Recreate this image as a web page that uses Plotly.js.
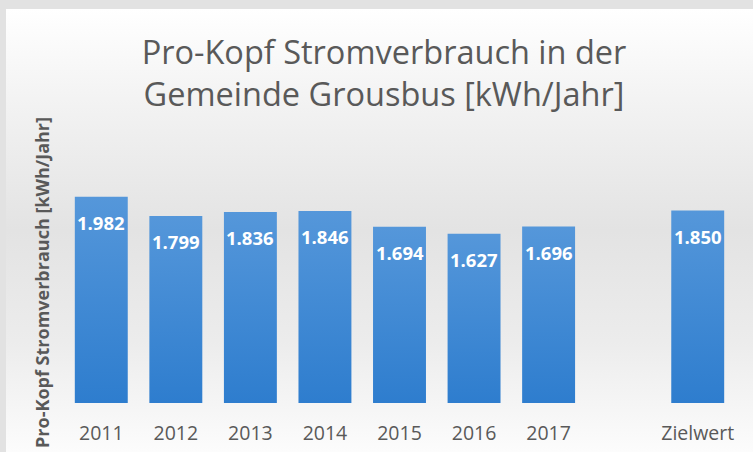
<!DOCTYPE html>
<html>
<head>
<meta charset="utf-8">
<script src="https://cdn.plot.ly/plotly-3.0.1.min.js"></script>
<style>
  html, body { margin:0; padding:0; width:753px; height:452px; overflow:hidden; background:#e2e2e2; }
  #bg { position:absolute; left:6px; top:9px; width:747px; height:443px;
        background: linear-gradient(to bottom, #ffffff 0%, #f2f2f2 22%, #e3e3e3 50%, #ececec 75%, #fcfcfc 100%); }
  #chart { position:absolute; left:0; top:0; width:753px; height:452px; }
</style>
</head>
<body>
<div id="bg"></div>
<div id="chart"></div>
<script>
const categories = ['2011','2012','2013','2014','2015','2016','2017',' ','Zielwert'];
const values = [1982, 1799, 1836, 1846, 1694, 1627, 1696, null, 1850];
const chartTitle = 'Pro-Kopf Stromverbrauch in der<br>Gemeinde Grousbus [kWh/Jahr]';
const yTitle = 'Pro-Kopf Stromverbrauch [kWh/Jahr]';

function fmtDe(v) {
  const s = String(Math.round(v));
  return s.replace(/\B(?=(\d{3})+(?!\d))/g, '.');
}

const labelAnnotations = [];
categories.forEach((c, i) => {
  if (values[i] == null) return;
  labelAnnotations.push({
    x: i, y: values[i], xref: 'x', yref: 'y',
    text: '<b>' + fmtDe(values[i]) + '</b>',
    showarrow: false, yanchor: 'top', yshift: -11,
    font: { family: 'Open Sans, sans-serif', size: 18.5, color: '#ffffff' }
  });
});

const trace = {
  type: 'bar', x: categories, y: values,
  marker: { color: '#3d87d3', line: { width: 0 } },
  hoverinfo: 'none'
};

const layout = {
  width: 753, height: 452,
  margin: { l: 64, r: 18, t: 143, b: 49 },
  paper_bgcolor: 'rgba(0,0,0,0)', plot_bgcolor: 'rgba(0,0,0,0)',
  showlegend: false,
  bargap: 0.29,
  title: {
    text: chartTitle, x: 384 / 753, xref: 'container', xanchor: 'center',
    y: 1 - 64 / 452, yref: 'container', yanchor: 'top',
    font: { family: 'Open Sans, sans-serif', size: 32.5, color: '#595959' }
  },
  xaxis: {
    type: 'category', range: [-0.5, 8.5],
    showgrid: false, zeroline: false, showline: false, ticks: '',
    ticklabelstandoff: 16,
    tickfont: { family: 'Open Sans, sans-serif', size: 19.5, color: '#595959' },
    fixedrange: true
  },
  yaxis: {
    range: [0, 2500], showgrid: false, zeroline: false, showline: false,
    showticklabels: false, ticks: '', fixedrange: true
  },
  annotations: labelAnnotations.concat([{
    text: '<b>' + yTitle + '</b>', textangle: -90,
    xref: 'paper', yref: 'paper', x: -0.033, y: 0.465,
    xanchor: 'center', yanchor: 'middle', showarrow: false,
    font: { family: 'Open Sans, sans-serif', size: 18, color: '#595959' }
  }])
};

Plotly.newPlot('chart', [trace], layout, { staticPlot: true, displayModeBar: false }).then(gd => {
  const svg = gd.querySelector('svg.main-svg');
  const ns = 'http://www.w3.org/2000/svg';
  let defs = svg.querySelector('defs');
  if (!defs) { defs = document.createElementNS(ns, 'defs'); svg.insertBefore(defs, svg.firstChild); }
  const lg = document.createElementNS(ns, 'linearGradient');
  lg.setAttribute('id', 'barGrad');
  lg.setAttribute('x1', '0'); lg.setAttribute('y1', '0');
  lg.setAttribute('x2', '0'); lg.setAttribute('y2', '1');
  [['0%', '#5597da'], ['100%', '#2e7dce']].forEach(([o, c]) => {
    const s = document.createElementNS(ns, 'stop');
    s.setAttribute('offset', o); s.setAttribute('stop-color', c);
    lg.appendChild(s);
  });
  defs.appendChild(lg);
  gd.querySelectorAll('.bars .point path').forEach(p => { p.style.fill = 'url(#barGrad)'; });
});
</script>
</body>
</html>
